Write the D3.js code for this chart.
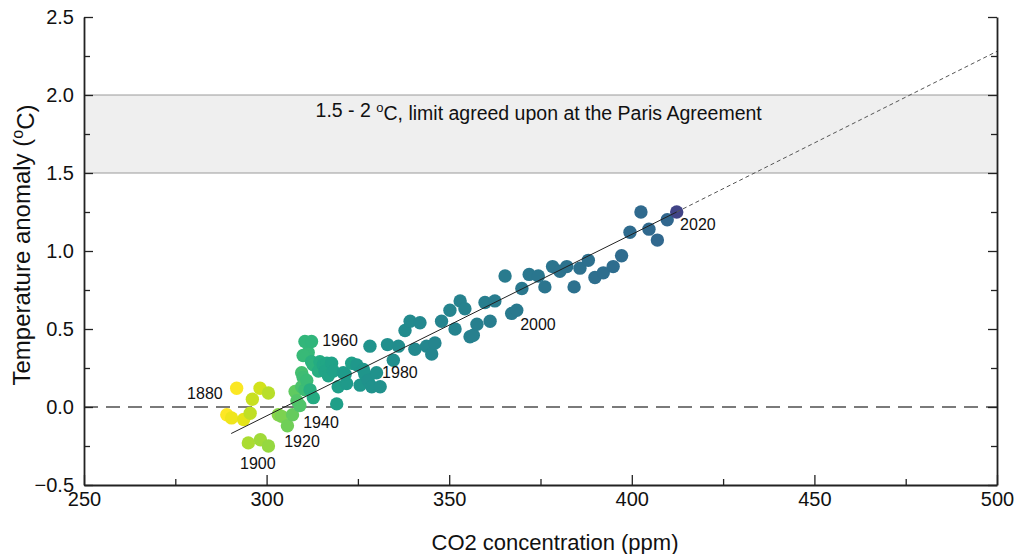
<!DOCTYPE html>
<html>
<head>
<meta charset="utf-8">
<script src="https://cdn.jsdelivr.net/npm/d3@7"></script>
<style>
  body { margin: 0; background: #fff; }
  svg { display: block; font-family: "Liberation Sans", Arial, sans-serif; }
</style>
</head>
<body>
<svg id="chart"></svg>
<script>
// one point per year: CO2 (ppm) and temperature anomaly (ºC)
const years = [
  1880, 1885, 1881, 1888, 1904, 1898, 1896, 1893, 1907, 1900,
  1910, 1913, 1917, 1921, 1924, 1926, 1930, 1932, 1936, 1938,
  1934, 1939, 1940, 1942, 1941, 1944, 1945, 1950, 1954, 1948,
  1947, 1953, 1952, 1957, 1958, 1959, 1960, 1961, 1962, 1964,
  1965, 1966, 1968, 1967, 1963, 1969, 1971, 1970, 1972, 1974,
  1973, 1974, 1975, 1976, 1977, 1978, 1979,
  1980, 1981, 1982, 1983, 1984, 1985, 1986, 1987, 1988, 1989,
  1990, 1991, 1992, 1993, 1994, 1995, 1996, 1997, 1998, 1999,
  2000, 2001, 2002, 2003, 2004, 2005, 2006, 2007, 2008, 2009,
  2010, 2011, 2012, 2013, 2014, 2015, 2016, 2017, 2018, 2019,
  2020
];
const co2 = [
  289.1, 290.4, 291.8, 293.7, 295.0, 295.5, 296.1, 298.2, 298.3, 300.5,
  300.5, 303.2, 304.1, 305.7, 307.1, 307.8, 308.3, 309.1, 309.6, 310.0,
  309.6, 310.5, 311.0, 311.4, 310.0, 310.5, 312.3, 311.9, 312.8, 312.3,
  312.8, 314.6, 314.2, 315.5, 316.5, 316.0, 316.9, 317.8, 318.3, 319.2,
  319.6, 321.0, 321.9, 321.5, 323.3, 324.7, 325.6, 326.5, 326.9, 327.8,
  328.3, 328.8, 330.1, 331.1, 333.1, 334.7, 336.1,
  337.9, 339.3, 340.6, 342.0, 343.8, 345.2, 346.1, 347.9, 350.2, 351.6,
  353.0, 354.3, 355.7, 356.6, 357.6, 359.8, 361.2, 362.5, 365.3, 367.1,
  368.5, 369.9, 371.9, 374.4, 376.2, 378.3, 380.3, 382.2, 384.2, 385.8,
  388.1, 389.9, 392.2, 394.9, 397.2, 399.5, 402.5, 404.7, 407.0, 409.7,
  412.3
];
const anomaly = [
  -0.05, -0.07, 0.12, -0.08, -0.23, -0.04, 0.05, 0.12, -0.21, 0.09,
  -0.25, -0.05, -0.06, -0.12, -0.05, 0.10, 0.04, 0.01, 0.22, 0.19,
  0.13, 0.11, 0.17, 0.35, 0.33, 0.42, 0.42, 0.11, 0.06, 0.29,
  0.27, 0.29, 0.23, 0.27, 0.28, 0.23, 0.20, 0.28, 0.23, 0.02,
  0.13, 0.22, 0.15, 0.21, 0.28, 0.27, 0.14, 0.24, 0.21, 0.17,
  0.39, 0.13, 0.22, 0.13, 0.40, 0.30, 0.39,
  0.49, 0.55, 0.37, 0.54, 0.39, 0.34, 0.41, 0.55, 0.62, 0.50,
  0.68, 0.63, 0.45, 0.46, 0.53, 0.67, 0.55, 0.68, 0.84, 0.60,
  0.62, 0.76, 0.85, 0.84, 0.77, 0.90, 0.87, 0.90, 0.77, 0.89,
  0.94, 0.83, 0.86, 0.90, 0.97, 1.12, 1.25, 1.14, 1.07, 1.20,
  1.25
];

// linear fit: solid over the data, dotted beyond
const fitCo2 = [290.3, 412.3, 500];
const fitTemp = [-0.17, 1.25, 2.28];

const parisBand = [1.5, 2.0];

const xTicks = [250, 300, 350, 400, 450, 500];
const yTicks = [-0.5, 0.0, 0.5, 1.0, 1.5, 2.0, 2.5];

const labelYears = ["1880", "1900", "1920", "1940", "1960", "1980", "2000", "2020"];
const labelCo2 = [283.1, 297.6, 309.7, 314.9, 320.1, 336.5, 374.3, 418.1];
const labelTemp = [0.09, -0.36, -0.22, -0.10, 0.43, 0.22, 0.53, 1.17];

const W = 1016, H = 554;
const margin = { top: 17, right: 19, bottom: 69, left: 84 };
const width = W - margin.left - margin.right;
const height = H - margin.top - margin.bottom;

const svg = d3.select("#chart").attr("width", W).attr("height", H);
const g = svg.append("g").attr("transform", `translate(${margin.left},${margin.top})`);

const x = d3.scaleLinear().domain([250, 500]).range([0, width]);
const y = d3.scaleLinear().domain([-0.5, 2.5]).range([height, 0]);
// year -> position on the viridis ramp (yellow to blue, last year purple)
const rampPos = d3.scaleLinear()
  .domain([1880, 1940, 1980, 2019, 2020])
  .range([1, 0.68, 0.48, 0.33, 0.2]);
const color = yr => d3.interpolateViridis(rampPos(yr));

// Paris agreement band
g.append("rect")
  .attr("x", 0).attr("width", width)
  .attr("y", y(parisBand[1]))
  .attr("height", y(parisBand[0]) - y(parisBand[1]))
  .style("fill", "#efefef");
g.selectAll("line.band")
  .data(parisBand)
  .enter().append("line")
  .attr("class", "band")
  .attr("x1", 0).attr("x2", width)
  .attr("y1", d => y(d)).attr("y2", d => y(d))
  .style("stroke", "#9a9a9a").style("stroke-width", 1);

const note = g.append("text")
  .attr("x", x(374.5))
  .attr("y", y(1.9))
  .attr("text-anchor", "middle")
  .attr("dy", "0.35em")
  .style("font-size", "19.5px")
  .style("fill", "#111");
note.append("tspan").text("1.5 - 2 ");
note.append("tspan").attr("dy", "-0.45em").style("font-size", "13px").text("o");
note.append("tspan").attr("dy", "0.45em").text("C, limit agreed upon at the Paris Agreement");

// zero line
g.append("line")
  .attr("x1", 0).attr("x2", width)
  .attr("y1", y(0)).attr("y2", y(0))
  .style("stroke", "#7a7a7a")
  .style("stroke-width", 2)
  .style("stroke-dasharray", "14 8");

// points
const points = years.map((yr, i) => ({ year: yr, co2: co2[i], t: anomaly[i] }));
g.selectAll("circle.pt")
  .data(points)
  .enter().append("circle")
  .attr("class", "pt")
  .attr("cx", d => x(d.co2))
  .attr("cy", d => y(d.t))
  .attr("r", 6.7)
  .style("fill", d => color(d.year));

// fit line
g.append("line")
  .attr("x1", x(fitCo2[0])).attr("y1", y(fitTemp[0]))
  .attr("x2", x(fitCo2[1])).attr("y2", y(fitTemp[1]))
  .style("stroke", "#222").style("stroke-width", 1);
g.append("line")
  .attr("x1", x(fitCo2[1])).attr("y1", y(fitTemp[1]))
  .attr("x2", x(fitCo2[2])).attr("y2", y(fitTemp[2]))
  .style("stroke", "#555").style("stroke-width", 1)
  .style("stroke-dasharray", "4 3");

// year labels
g.selectAll("text.yr")
  .data(labelYears)
  .enter().append("text")
  .attr("class", "yr")
  .attr("x", (d, i) => x(labelCo2[i]))
  .attr("y", (d, i) => y(labelTemp[i]))
  .attr("dy", "0.35em")
  .attr("text-anchor", "middle")
  .style("font-size", "16px")
  .style("fill", "#111")
  .text(d => d);

// axes, ticks pointing inward
const minorX = d3.range(275, 500, 50);
const minorY = d3.range(-0.25, 2.5, 0.5);

const axisStyle = sel => {
  sel.select(".domain").style("stroke", "#222").style("stroke-width", 1.8);
  sel.selectAll(".tick line").style("stroke", "#222").style("stroke-width", 1.3);
  sel.selectAll(".tick text").style("font-size", "20px").style("fill", "#111")
    .style("font-family", "Liberation Sans, Arial, sans-serif");
};

g.append("g")
  .attr("transform", `translate(0,${height})`)
  .call(d3.axisBottom(x).tickValues(xTicks).tickSizeInner(-10).tickSizeOuter(0).tickPadding(7))
  .call(axisStyle);
g.append("g")
  .attr("transform", `translate(0,${height})`)
  .call(d3.axisBottom(x).tickValues(minorX).tickSize(-6).tickFormat(""))
  .call(axisStyle)
  .select(".domain").remove();

g.append("g")
  .call(d3.axisLeft(y).tickValues(yTicks).tickSizeInner(-9).tickSizeOuter(0).tickPadding(10)
    .tickFormat(d3.format(".1f")))
  .call(axisStyle);
g.append("g")
  .call(d3.axisLeft(y).tickValues(minorY).tickSize(-6).tickFormat(""))
  .call(axisStyle)
  .select(".domain").remove();

g.append("g")
  .attr("transform", `translate(${width},0)`)
  .call(d3.axisRight(y).tickValues(yTicks).tickSizeInner(-9).tickSizeOuter(0).tickFormat(""))
  .call(axisStyle);
g.append("g")
  .attr("transform", `translate(${width},0)`)
  .call(d3.axisRight(y).tickValues(minorY).tickSize(-6).tickFormat(""))
  .call(axisStyle)
  .select(".domain").remove();

// axis titles
svg.append("text")
  .attr("x", 555)
  .attr("y", 550)
  .attr("text-anchor", "middle")
  .style("font-size", "22px")
  .style("fill", "#111")
  .text("CO2 concentration (ppm)");

const yTitle = svg.append("text")
  .attr("transform", "translate(30,245) rotate(-90)")
  .attr("text-anchor", "middle")
  .style("font-size", "24px")
  .style("fill", "#111");
yTitle.append("tspan").text("Temperature anomaly (");
yTitle.append("tspan").attr("dy", "-0.45em").style("font-size", "16px").text("o");
yTitle.append("tspan").attr("dy", "0.45em").text("C)");
</script>
</body>
</html>
